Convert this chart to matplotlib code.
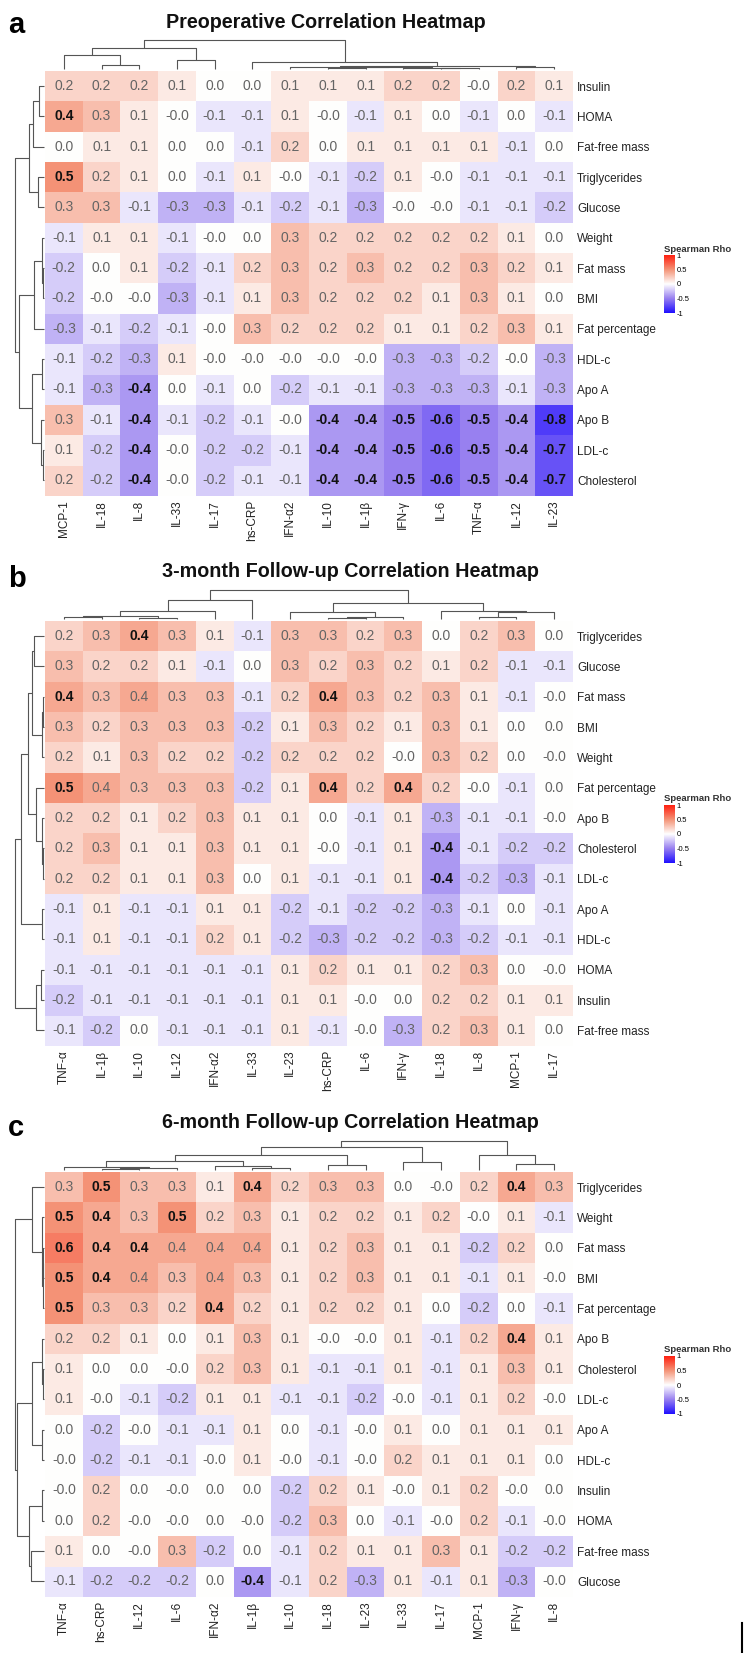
import numpy as np
import matplotlib
matplotlib.use("Agg")
import matplotlib.pyplot as plt
from matplotlib.colors import LinearSegmentedColormap

plt.rcParams['font.family'] = ['Liberation Sans', 'DejaVu Sans']

# ---------------- data ----------------
titles = ['Preoperative Correlation Heatmap',
          '3-month Follow-up Correlation Heatmap',
          '6-month Follow-up Correlation Heatmap']
letters = ['a', 'b', 'c']

cols_a = ['MCP-1', 'IL-18', 'IL-8', 'IL-33', 'IL-17', 'hs-CRP', 'IFN-α2',
          'IL-10', 'IL-1β', 'IFN-γ', 'IL-6', 'TNF-α', 'IL-12', 'IL-23']
rows_a = ['Insulin', 'HOMA', 'Fat-free mass', 'Triglycerides', 'Glucose', 'Weight',
          'Fat mass', 'BMI', 'Fat percentage', 'HDL-c', 'Apo A', 'Apo B', 'LDL-c', 'Cholesterol']
vals_a = [
    [0.2, 0.2, 0.2, 0.1, 0.0, 0.0, 0.1, 0.1, 0.1, 0.2, 0.2, -0.0, 0.2, 0.1],
    [0.4, 0.3, 0.1, -0.0, -0.1, -0.1, 0.1, -0.0, -0.1, 0.1, 0.0, -0.1, 0.0, -0.1],
    [0.0, 0.1, 0.1, 0.0, 0.0, -0.1, 0.2, 0.0, 0.1, 0.1, 0.1, 0.1, -0.1, 0.0],
    [0.5, 0.2, 0.1, 0.0, -0.1, 0.1, -0.0, -0.1, -0.2, 0.1, -0.0, -0.1, -0.1, -0.1],
    [0.3, 0.3, -0.1, -0.3, -0.3, -0.1, -0.2, -0.1, -0.3, -0.0, -0.0, -0.1, -0.1, -0.2],
    [-0.1, 0.1, 0.1, -0.1, -0.0, 0.0, 0.3, 0.2, 0.2, 0.2, 0.2, 0.2, 0.1, 0.0],
    [-0.2, 0.0, 0.1, -0.2, -0.1, 0.2, 0.3, 0.2, 0.3, 0.2, 0.2, 0.3, 0.2, 0.1],
    [-0.2, -0.0, -0.0, -0.3, -0.1, 0.1, 0.3, 0.2, 0.2, 0.2, 0.1, 0.3, 0.1, 0.0],
    [-0.3, -0.1, -0.2, -0.1, -0.0, 0.3, 0.2, 0.2, 0.2, 0.1, 0.1, 0.2, 0.3, 0.1],
    [-0.1, -0.2, -0.3, 0.1, -0.0, -0.0, -0.0, -0.0, -0.0, -0.3, -0.3, -0.2, -0.0, -0.3],
    [-0.1, -0.3, -0.4, 0.0, -0.1, 0.0, -0.2, -0.1, -0.1, -0.3, -0.3, -0.3, -0.1, -0.3],
    [0.3, -0.1, -0.4, -0.1, -0.2, -0.1, -0.0, -0.4, -0.4, -0.5, -0.6, -0.5, -0.4, -0.8],
    [0.1, -0.2, -0.4, -0.0, -0.2, -0.2, -0.1, -0.4, -0.4, -0.5, -0.6, -0.5, -0.4, -0.7],
    [0.2, -0.2, -0.4, -0.0, -0.2, -0.1, -0.1, -0.4, -0.4, -0.5, -0.6, -0.5, -0.4, -0.7],
]
sig_a = [(1, 0), (3, 0), (10, 2)] + [(r, c) for r in (11, 12, 13)
                                     for c in (2, 7, 8, 9, 10, 11, 12, 13)]

cols_b = ['TNF-α', 'IL-1β', 'IL-10', 'IL-12', 'IFN-α2', 'IL-33', 'IL-23',
          'hs-CRP', 'IL-6', 'IFN-γ', 'IL-18', 'IL-8', 'MCP-1', 'IL-17']
rows_b = ['Triglycerides', 'Glucose', 'Fat mass', 'BMI', 'Weight', 'Fat percentage', 'Apo B',
          'Cholesterol', 'LDL-c', 'Apo A', 'HDL-c', 'HOMA', 'Insulin', 'Fat-free mass']
vals_b = [
    [0.2, 0.3, 0.4, 0.3, 0.1, -0.1, 0.3, 0.3, 0.2, 0.3, 0.0, 0.2, 0.3, 0.0],
    [0.3, 0.2, 0.2, 0.1, -0.1, 0.0, 0.3, 0.2, 0.3, 0.2, 0.1, 0.2, -0.1, -0.1],
    [0.4, 0.3, 0.4, 0.3, 0.3, -0.1, 0.2, 0.4, 0.3, 0.2, 0.3, 0.1, -0.1, -0.0],
    [0.3, 0.2, 0.3, 0.3, 0.3, -0.2, 0.1, 0.3, 0.2, 0.1, 0.3, 0.1, 0.0, 0.0],
    [0.2, 0.1, 0.3, 0.2, 0.2, -0.2, 0.2, 0.2, 0.2, -0.0, 0.3, 0.2, 0.0, -0.0],
    [0.5, 0.4, 0.3, 0.3, 0.3, -0.2, 0.1, 0.4, 0.2, 0.4, 0.2, -0.0, -0.1, 0.0],
    [0.2, 0.2, 0.1, 0.2, 0.3, 0.1, 0.1, 0.0, -0.1, 0.1, -0.3, -0.1, -0.1, -0.0],
    [0.2, 0.3, 0.1, 0.1, 0.3, 0.1, 0.1, -0.0, -0.1, 0.1, -0.4, -0.1, -0.2, -0.2],
    [0.2, 0.2, 0.1, 0.1, 0.3, 0.0, 0.1, -0.1, -0.1, 0.1, -0.4, -0.2, -0.3, -0.1],
    [-0.1, 0.1, -0.1, -0.1, 0.1, 0.1, -0.2, -0.1, -0.2, -0.2, -0.3, -0.1, 0.0, -0.1],
    [-0.1, 0.1, -0.1, -0.1, 0.2, 0.1, -0.2, -0.3, -0.2, -0.2, -0.3, -0.2, -0.1, -0.1],
    [-0.1, -0.1, -0.1, -0.1, -0.1, -0.1, 0.1, 0.2, 0.1, 0.1, 0.2, 0.3, 0.0, -0.0],
    [-0.2, -0.1, -0.1, -0.1, -0.1, -0.1, 0.1, 0.1, -0.0, 0.0, 0.2, 0.2, 0.1, 0.1],
    [-0.1, -0.2, 0.0, -0.1, -0.1, -0.1, 0.1, -0.1, -0.0, -0.3, 0.2, 0.3, 0.1, 0.0],
]
sig_b = [(0, 2), (2, 0), (2, 7), (5, 0), (5, 7), (5, 9), (7, 10), (8, 10)]

cols_c = ['TNF-α', 'hs-CRP', 'IL-12', 'IL-6', 'IFN-α2', 'IL-1β', 'IL-10',
          'IL-18', 'IL-23', 'IL-33', 'IL-17', 'MCP-1', 'IFN-γ', 'IL-8']
rows_c = ['Triglycerides', 'Weight', 'Fat mass', 'BMI', 'Fat percentage', 'Apo B', 'Cholesterol',
          'LDL-c', 'Apo A', 'HDL-c', 'Insulin', 'HOMA', 'Fat-free mass', 'Glucose']
vals_c = [
    [0.3, 0.5, 0.3, 0.3, 0.1, 0.4, 0.2, 0.3, 0.3, 0.0, -0.0, 0.2, 0.4, 0.3],
    [0.5, 0.4, 0.3, 0.5, 0.2, 0.3, 0.1, 0.2, 0.2, 0.1, 0.2, -0.0, 0.1, -0.1],
    [0.6, 0.4, 0.4, 0.4, 0.4, 0.4, 0.1, 0.2, 0.3, 0.1, 0.1, -0.2, 0.2, 0.0],
    [0.5, 0.4, 0.4, 0.3, 0.4, 0.3, 0.1, 0.2, 0.3, 0.1, 0.1, -0.1, 0.1, -0.0],
    [0.5, 0.3, 0.3, 0.2, 0.4, 0.2, 0.1, 0.2, 0.2, 0.1, 0.0, -0.2, 0.0, -0.1],
    [0.2, 0.2, 0.1, 0.0, 0.1, 0.3, 0.1, -0.0, -0.0, 0.1, -0.1, 0.2, 0.4, 0.1],
    [0.1, 0.0, 0.0, -0.0, 0.2, 0.3, 0.1, -0.1, -0.1, 0.1, -0.1, 0.1, 0.3, 0.1],
    [0.1, -0.0, -0.1, -0.2, 0.1, 0.1, -0.1, -0.1, -0.2, -0.0, -0.1, 0.1, 0.2, -0.0],
    [0.0, -0.2, -0.0, -0.1, -0.1, 0.1, 0.0, -0.1, -0.0, 0.1, 0.0, 0.1, 0.1, 0.1],
    [-0.0, -0.2, -0.1, -0.1, -0.0, 0.1, -0.0, -0.1, -0.0, 0.2, 0.1, 0.1, 0.1, 0.0],
    [-0.0, 0.2, 0.0, -0.0, 0.0, 0.0, -0.2, 0.2, 0.1, -0.0, 0.1, 0.2, -0.0, 0.0],
    [0.0, 0.2, -0.0, -0.0, 0.0, -0.0, -0.2, 0.3, 0.0, -0.1, -0.0, 0.2, -0.1, -0.0],
    [0.1, 0.0, -0.0, 0.3, -0.2, 0.0, -0.1, 0.2, 0.1, 0.1, 0.3, 0.1, -0.2, -0.2],
    [-0.1, -0.2, -0.2, -0.2, 0.0, -0.4, -0.1, 0.2, -0.3, 0.1, -0.1, 0.1, -0.3, -0.0],
]
sig_c = [(0, 1), (0, 5), (0, 12), (1, 0), (1, 1), (1, 3), (2, 0), (2, 1), (2, 2),
         (3, 0), (3, 1), (4, 0), (4, 4), (5, 12), (13, 5)]

# dendrograms: (left, right, height), leaves are indices, height 1 = root
tree_col_a = (((0, (1, 2, 0.14), 0.48), (3, 4, 0.31), 0.73),
              (5, ((6, ((7, 8, 0.03), (9, (10, 11, 0.03), 0.05), 0.06), 0.08),
                   (12, 13, 0.07), 0.10), 0.25), 1.0)
tree_row_a = ((((0, 1, 0.17), 2, 0.39), (3, 4, 0.22), 0.52),
              (((5, (6, 7, 0.03), 0.06), 8, 0.33),
               ((9, 10, 0.08), (11, (12, 13, 0.04), 0.11), 0.41), 0.86), 1.0)

tree_col_b = (((((0, 1, 0.07), (2, 3, 0.05), 0.10), 4, 0.29), 5, 0.66),
              ((6, ((7, 8, 0.04), 9, 0.08), 0.25),
               (10, ((11, 12, 0.06), 13, 0.24), 0.26), 0.56), 1.0)
tree_row_b = (((((0, 1, 0.33), ((2, 3, 0.05), 4, 0.08), 0.40),
                (5, (6, (7, 8, 0.05), 0.08), 0.29), 0.54), (9, 10, 0.08), 0.78),
              ((11, 12, 0.11), 13, 0.29), 1.0)

tree_col_c = (((((0, ((1, 2, 0.04), 3, 0.06), 0.09), (4, (5, 6, 0.07), 0.13), 0.32),
                (7, 8, 0.17), 0.52), (9, 10, 0.29), 0.78),
              (11, (12, 13, 0.21), 0.52), 1.0)
tree_row_c = ((0, (1, ((2, 3, 0.03), 4, 0.05), 0.08), 0.40),
              (((5, (6, 7, 0.04), 0.08), (8, 9, 0.07), 0.40),
               ((10, 11, 0.08), (12, 13, 0.44), 0.52), 0.92), 1.0)

panels = [
    (rows_a, cols_a, vals_a, sig_a, tree_row_a, tree_col_a),
    (rows_b, cols_b, vals_b, sig_b, tree_row_b, tree_col_b),
    (rows_c, cols_c, vals_c, sig_c, tree_row_c, tree_col_c),
]

# ---------------- layout (pixels) ----------------
W, H = 752, 1653
tops = [71, 621, 1172]
title_x = [326, 350, 350]
title_y = [28, 577, 1128]
letter_y = [33, 587, 1136]
HM_LEFT, HM_W, HM_H = 45, 528, 424.6

cmap = LinearSegmentedColormap.from_list(
    'rho', [(0.0, '#2010ff'), (0.25, '#9880f0'), (0.5, '#ffffff'),
            (0.75, '#f49478'), (1.0, '#ff2010')])
line_kw = dict(color='#555555', lw=0.8, clip_on=False, solid_capstyle='butt')

fig = plt.figure(figsize=(W / 100, H / 100), dpi=100)


def rect(left, top, width, height):
    return [left / W, 1 - (top + height) / H, width / W, height / H]


def draw_tree(ax, node, orient):
    if isinstance(node, int):
        return node + 0.5, 0.0
    left, right, h = node
    pl, hl = draw_tree(ax, left, orient)
    pr, hr = draw_tree(ax, right, orient)
    pos = [pl, pl, pr, pr]
    hts = [hl, h, h, hr]
    if orient == 'top':
        ax.plot(pos, hts, **line_kw)
    else:
        ax.plot(hts, pos, **line_kw)
    return (pl + pr) / 2, h


for k, (rows, cols, vals, sig, trow, tcol) in enumerate(panels):
    top = tops[k]
    data = np.array(vals)
    nr, nc = data.shape

    ax = fig.add_axes(rect(HM_LEFT, top, HM_W, HM_H))
    ax.imshow(data, cmap=cmap, vmin=-1, vmax=1, aspect='auto',
              interpolation='nearest', extent=(0, nc, nr, 0))
    ax.set_xlim(0, nc)
    ax.set_ylim(nr, 0)
    for s in ax.spines.values():
        s.set_visible(False)
    ax.set_xticks(np.arange(nc) + 0.5)
    ax.set_xticklabels(cols, rotation=90, fontsize=8.5, color='#222222')
    ax.set_yticks(np.arange(nr) + 0.5)
    ax.set_yticklabels(rows, fontsize=8.5, color='#222222')
    ax.yaxis.tick_right()
    ax.tick_params(length=0, pad=3)

    for i in range(nr):
        for j in range(nc):
            bold = (i, j) in sig
            ax.text(j + 0.5, i + 0.5, f"{vals[i][j]:.1f}", ha='center', va='center',
                    fontsize=10, fontweight='bold' if bold else 'normal',
                    color='#111111' if bold else '#646464')

    # column dendrogram
    axc = fig.add_axes(rect(HM_LEFT, top - 31, HM_W, 29))
    draw_tree(axc, tcol, 'top')
    axc.set_xlim(0, nc)
    axc.set_ylim(0, 1)
    axc.axis('off')

    # row dendrogram
    axr = fig.add_axes(rect(15, top, 29, HM_H))
    draw_tree(axr, trow, 'left')
    axr.set_xlim(1, 0)
    axr.set_ylim(nr, 0)
    axr.axis('off')

    # legend
    cax = fig.add_axes(rect(664, top + 184, 11, 58))
    grad = np.linspace(1, -1, 200)[:, None]
    cax.imshow(grad, cmap=cmap, vmin=-1, vmax=1, aspect='auto', extent=(0, 1, -1, 1))
    cax.set_xticks([])
    cax.set_yticks([-1, -0.5, 0, 0.5, 1])
    cax.set_yticklabels(['-1', '-0.5', '0', '0.5', '1'], fontsize=5.5)
    cax.yaxis.tick_right()
    cax.tick_params(length=0, pad=1)
    for s in cax.spines.values():
        s.set_visible(False)
    fig.text(664 / W, 1 - (top + 182.5) / H, 'Spearman Rho', fontsize=6.8,
             fontweight='bold', color='#333333', ha='left', va='bottom')

    fig.text(title_x[k] / W, 1 - title_y[k] / H, titles[k], fontsize=14.2,
             fontweight='bold', ha='center', va='baseline', color='#111111')
    fig.text(8 / W, 1 - letter_y[k] / H, letters[k], fontsize=21,
             fontweight='bold', ha='left', va='baseline', color='black')

# small vertical bar at the bottom right edge
fig.add_artist(plt.Line2D([742 / W, 742 / W], [1 - 1623 / H, 1 - 1652 / H],
                          transform=fig.transFigure, color='black', lw=1.5))

fig.savefig('out.png', dpi=100)
